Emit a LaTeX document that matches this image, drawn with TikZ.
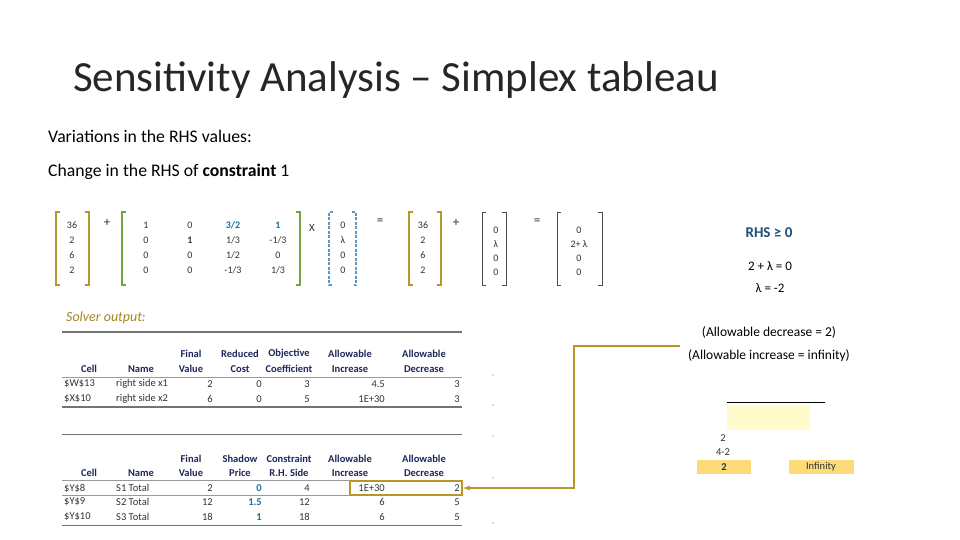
\documentclass[tikz,border=0pt]{standalone}
\usepackage{fontspec}
\setmainfont{Carlito}
\begin{document}
\begin{tikzpicture}[x=1pt,y=-1pt,
  gold/.style={draw=gold,line width=2.2pt},
  grn/.style={draw=grnc,line width=2.2pt},
  blu/.style={draw=bluc,line width=2pt,dash pattern=on 3pt off 1.5pt},
  thin/.style={draw=black!70,line width=0.6pt},
  mv/.style={font=\fontsize{10}{11}\selectfont,text=black!80,inner sep=0pt},
  op/.style={font=\fontsize{13}{13}\selectfont,text=black!80,inner sep=0pt},
  tb/.style={font=\fontsize{10.5}{11}\selectfont,text=black!80,inner sep=0pt},
  th/.style={font=\fontsize{10.5}{11}\selectfont\bfseries,text=hdr,inner sep=0pt},
  hl/.style={draw=black!55,line width=1.5pt},
  ]
\definecolor{gold}{RGB}{184,150,40}
\definecolor{grnc}{RGB}{112,168,70}
\definecolor{bluc}{RGB}{90,150,200}
\definecolor{hdr}{RGB}{30,40,90}
\definecolor{rhs}{RGB}{30,78,121}
\definecolor{tblue}{RGB}{31,110,160}
\useasboundingbox (0,0) rectangle (960,540);
\fill[white] (0,0) rectangle (960,540);
\newcommand\lbr[4]{\draw[#4] (#1+4,#2) -- (#1,#2) -- (#1,#3) -- (#1+4,#3);}
\newcommand\rbr[4]{\draw[#4] (#1-4,#2) -- (#1,#2) -- (#1,#3) -- (#1-4,#3);}
\node[anchor=west,inner sep=0pt,font=\fontsize{43}{46}\selectfont,text=black!85] (title) at (73,80) {Sensitivity Analysis – Simplex tableau};
\node[anchor=west,inner sep=0pt,font=\fontsize{17.7}{19}\selectfont] (s1) at (48,136) {Variations in the RHS values:};
\node[anchor=west,inner sep=0pt,font=\fontsize{17.7}{19}\selectfont] (s2) at (48,172) {Change in the RHS of \textbf{constraint} 1};
% vector 1
\lbr{56}{212}{285}{gold}\rbr{89}{212}{285}{gold}
\foreach \v [count=\i] in {36,2,6,2} \node[mv] (a\i) at (72,210+15*\i) {\v};
\node[op] (p1) at (107,223) {+};
\lbr{122}{212}{285}{grn}\rbr{300}{212}{285}{grn}
\node[mv] at (146,225) {1};\node[mv] at (190,225) {0};\node[mv,text=tblue] at (233,225) {\textbf{3/2}};\node[mv,text=tblue] at (278,225) {\textbf{1}};
\node[mv] at (146,240) {0};\node[mv] at (190,240) {\textbf{1}};\node[mv] at (233,240) {1/3};\node[mv] at (278,240) {-1/3};
\node[mv] at (146,255) {0};\node[mv] at (190,255) {0};\node[mv] at (233,255) {1/2};\node[mv] at (278,255) {0};
\node[mv] at (146,270) {0};\node[mv] at (190,270) {0};\node[mv] at (233,270) {-1/3};\node[mv] at (278,270) {1/3};
\node[op,font=\fontsize{11}{11}\selectfont] (x) at (312,228) {X};
\lbr{329}{212}{285}{blu}\rbr{356}{212}{285}{blu}
\foreach \v [count=\i] in {0,λ,0,0} \node[mv] (c\i) at (343,210+15*\i) {\v};
\node[op] (e1) at (380,222) {=};
\lbr{409}{212}{285}{gold}\rbr{441}{212}{285}{gold}
\foreach \v [count=\i] in {36,2,6,2} \node[mv] (d\i) at (423,210+15*\i) {\v};
\node[op] (p2) at (456,223) {+};
\lbr{482}{212}{285}{thin}\rbr{506}{212}{285}{thin}
\foreach \v [count=\i] in {0,λ,0,0} \node[mv] (f\i) at (496,216+14*\i) {\v};
\node[op] (e2) at (537,222) {=};
\lbr{557}{212}{285}{thin}\rbr{602}{212}{285}{thin}
\foreach \v [count=\i] in {0,2+ λ,0,0} \node[mv] (g\i) at (579,216+14*\i) {\v};
% right texts
\node[inner sep=0pt,font=\fontsize{15}{15}\selectfont\bfseries,text=rhs] (r1) at (769,233) {RHS ≥ 0};
\node[inner sep=0pt,font=\fontsize{13}{13}\selectfont] (r2) at (770,266) {2 + λ = 0};
\node[inner sep=0pt,font=\fontsize{13}{13}\selectfont] (r3) at (770,288) {λ = -2};
\node[inner sep=0pt,font=\fontsize{13.5}{14}\selectfont] (r4) at (769,332) {(Allowable decrease = 2)};
\node[inner sep=0pt,font=\fontsize{13.5}{14}\selectfont] (r5) at (769,356) {(Allowable increase = infinity)};
\node[anchor=west,inner sep=0pt,font=\fontsize{14}{14}\selectfont\itshape,text=gold!90!black] (so) at (66,318) {Solver output:};
% table 1
\draw[hl] (62,332) -- (462,332);
\foreach \x/\a/\b in {191/Final/Value,240/Reduced/Cost,289/Objective/Coefficient,350/Allowable/Increase,424/Allowable/Decrease}
  {\node[th] at (\x,354) {\a};\node[th] at (\x,369) {\b};}
\node[th] at (89,369) {Cell};\node[th] at (141,369) {Name};
\draw[black!40,line width=0.5pt] (62,377) -- (462,377);
\foreach \y/\c/\n/\fv/\rc/\oc/\ai/\ad in {384/\$W\$13/right side x1/2/0/3/4.5/3, 399/\$X\$10/right side x2/6/0/5/1E+30/3}{
 \node[tb,anchor=west] at (64,\y) {\c};\node[tb,anchor=west] at (116,\y) {\n};
 \node[tb,anchor=east] at (213,\y) {\fv};\node[tb,anchor=east] at (262,\y) {\rc};\node[tb,anchor=east] at (310,\y) {\oc};
 \node[tb,anchor=east] at (385,\y) {\ai};\node[tb,anchor=east] at (460,\y) {\ad};}
\draw[hl] (62,407) -- (462,407);
% table 2
\draw[black!55,line width=1pt] (62,434) -- (462,434);
\foreach \x/\a/\b in {191/Final/Value,240/Shadow/Price,289/Constraint/R.H. Side,350/Allowable/Increase,424/Allowable/Decrease}
  {\node[th] at (\x,459) {\a};\node[th] at (\x,473) {\b};}
\node[th] at (89,473) {Cell};\node[th] at (141,473) {Name};
\draw[black!40,line width=0.5pt] (62,480) -- (462,480);
\foreach \y/\c/\n/\fv/\sp/\rh/\ai/\ad in {488/\$Y\$8/S1 Total/2/0/4/1E+30/2, 502/\$Y\$9/S2 Total/12/1.5/12/6/5, 517/\$Y\$10/S3 Total/18/1/18/6/5}{
 \node[tb,anchor=west] at (64,\y) {\c};\node[tb,anchor=west] at (116,\y) {\n};
 \node[tb,anchor=east] at (213,\y) {\fv};\node[tb,anchor=east,text=tblue] at (262,\y) {\textbf{\sp}};\node[tb,anchor=east] at (310,\y) {\rh};
 \node[tb,anchor=east] at (385,\y) {\ai};\node[tb,anchor=east] at (460,\y) {\ad};}
\draw[black!40,line width=0.6pt] (62,495) -- (350,495);
\draw[hl,line width=1pt] (62,525) -- (462,525);
\node[draw=gold,line width=2pt,minimum width=112pt,minimum height=14pt,inner sep=0pt] (box) at (406,488) {};
\foreach \y in {375,405,436,478,523} \fill[black!60] (493,\y) circle (0.6pt);
% arrow
\coordinate (ast) at (680,346);
\draw[gold,line width=1.3pt,-latex] (ast) -- (574,346) -- (574,488) -- (box.east);
% right small
\draw[black,line width=0.6pt] (727,402) -- (825,402);
\fill[orange!15!yellow!20] (727,405) rectangle (810,430);
\node[tb] (k1) at (723,438) {2};
\node[tb] (k2) at (723,452) {4-2};
\node[fill=yellow!50!orange!50,minimum width=54pt,minimum height=14pt,inner sep=0pt,tb,font=\fontsize{10.5}{11}\selectfont\bfseries] (k3) at (724,467) {2};
\node[fill=yellow!50!orange!50,minimum width=65pt,minimum height=14pt,inner sep=0pt,tb] (k4) at (821,467) {Infinity};
\end{tikzpicture}
\end{document}
